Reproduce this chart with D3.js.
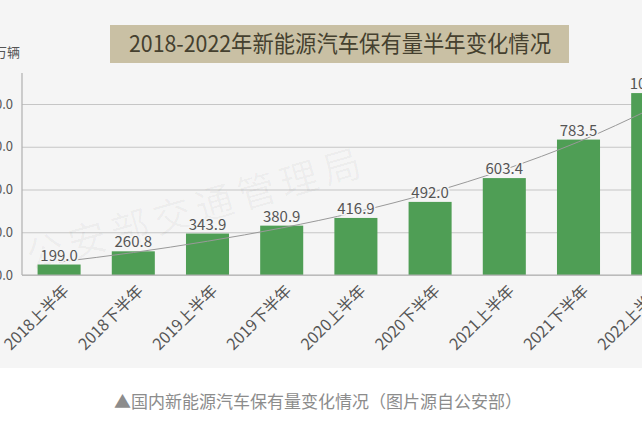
<!DOCTYPE html>
<html>
<head>
<meta charset="utf-8">
<script src="https://cdn.jsdelivr.net/npm/d3@7"></script>
<style>
  html, body { margin: 0; padding: 0; background: #ffffff; }
  svg { display: block; font-family: "Noto Sans CJK SC", "Noto Sans", sans-serif; }
</style>
</head>
<body>
<svg width="642" height="428"></svg>
<script>
const svg = d3.select('svg');
const width = +svg.attr('width');
const height = +svg.attr('height');

// data
const categories = ['2018上半年', '2018下半年', '2019上半年', '2019下半年', '2020上半年',
                    '2020下半年', '2021上半年', '2021下半年', '2022上半年'];
const values = [199.0, 260.8, 343.9, 380.9, 416.9, 492.0, 603.4, 783.5, 1001.1];
// trend line (exponential, as drawn in the picture)
const trendValues = [211, 255, 308, 370, 444, 534, 643, 773, 931];
const yTicks = [150, 350, 550, 750, 950];

const titleText = '2018-2022年新能源汽车保有量半年变化情况';
const unitText = '万辆';
const watermarkText = '公安部交通管理局';
const captionText = '▲国内新能源汽车保有量变化情况（图片源自公安部）';

const bgColor = '#f5f5f5';
const barColor = '#4f9e55';
const textColor = '#555555';

const margin = { left: 22, top: 73, bottom: 275 };

// background of the chart picture
svg.append('rect')
    .attr('x', 0).attr('y', 0)
    .attr('width', width).attr('height', 368)
    .attr('fill', bgColor);

// SCALES
const xScale = d3.scaleBand()
    .domain(categories)
    .range([margin.left, margin.left + categories.length * 74.2])
    .paddingInner(0.42)
    .paddingOuter(0.21);

const yScale = d3.scaleLinear()
    .domain([150, 950])
    .range([margin.bottom, 104]);

// title box
const titleG = svg.append('g');
titleG.append('rect')
    .attr('x', 110).attr('y', 25)
    .attr('width', 459).attr('height', 38)
    .attr('fill', '#c9c0a4');
titleG.append('text')
    .attr('x', 340).attr('y', 52)
    .attr('text-anchor', 'middle')
    .attr('font-size', 23)
    .attr('fill', '#45402f')
    .attr('textLength', 422)
    .attr('lengthAdjust', 'spacingAndGlyphs')
    .text(titleText);

// unit label
svg.append('text')
    .attr('x', 20).attr('y', 57)
    .attr('text-anchor', 'end')
    .attr('font-size', 13)
    .attr('fill', textColor)
    .text(unitText);

// Y-axis with grid
const yAxis = d3.axisLeft(yScale)
    .tickValues(yTicks)
    .tickSize(-(width - margin.left + 40))
    .tickPadding(9)
    .tickFormat(d3.format('.1f'));
const yAxisG = svg.append('g')
    .attr('transform', `translate(${margin.left},0)`)
    .call(yAxis);
yAxisG.select('.domain').remove();
yAxisG.selectAll('.tick line')
    .attr('stroke', '#c6c6c6')
    .attr('stroke-width', 1.2);
yAxisG.selectAll('.tick text')
    .attr('font-size', 13)
    .attr('fill', textColor)
    .attr('font-family', '"Noto Sans CJK SC", sans-serif');

// left axis line
svg.append('line')
    .attr('x1', margin.left).attr('x2', margin.left)
    .attr('y1', margin.top).attr('y2', margin.bottom)
    .attr('stroke', '#b0b0b0')
    .attr('stroke-width', 1.2);

// watermark
svg.append('text')
    .attr('transform', 'translate(200,222) rotate(-16)')
    .attr('text-anchor', 'middle')
    .attr('font-size', 38)
    .attr('letter-spacing', 6)
    .attr('fill', '#000')
    .attr('fill-opacity', 0.035)
    .text(watermarkText);

// BARS
svg.append('g')
    .selectAll('rect')
    .data(values)
    .enter().append('rect')
    .attr('x', (d, i) => xScale(categories[i]))
    .attr('y', d => yScale(d))
    .attr('width', xScale.bandwidth())
    .attr('height', d => yScale(150) - yScale(d))
    .attr('fill', barColor);

// X-axis
const xAxis = d3.axisBottom(xScale)
    .tickSize(0)
    .tickPadding(0);
const xAxisG = svg.append('g')
    .attr('transform', `translate(0,${margin.bottom})`)
    .call(xAxis);
xAxisG.select('.domain')
    .attr('stroke', '#b0b0b0')
    .attr('stroke-width', 1.2)
    .attr('d', `M${margin.left},0H${width + 10}`);
xAxisG.selectAll('.tick text')
    .attr('font-size', 16)
    .attr('fill', textColor)
    .attr('font-family', '"Noto Sans CJK SC", sans-serif')
    .attr('text-anchor', 'end')
    .attr('dy', '0.35em')
    .attr('transform', 'translate(7,13) rotate(-45)');

// trend line
const line = d3.line()
    .x((d, i) => xScale(categories[i]) + xScale.bandwidth() / 2)
    .y(d => yScale(d))
    .curve(d3.curveMonotoneX);
svg.append('path')
    .datum(trendValues)
    .attr('d', line)
    .attr('fill', 'none')
    .attr('stroke', '#999999')
    .attr('stroke-width', 1);

// value labels
svg.append('g')
    .selectAll('text')
    .data(values)
    .enter().append('text')
    .attr('x', (d, i) => xScale(categories[i]) + xScale.bandwidth() / 2)
    .attr('y', d => yScale(d) - 4)
    .attr('text-anchor', 'middle')
    .attr('font-size', 15)
    .attr('fill', textColor)
    .attr('stroke', bgColor)
    .attr('stroke-width', 3)
    .attr('paint-order', 'stroke')
    .text(d => d.toFixed(1));

// caption
svg.append('text')
    .attr('x', 318).attr('y', 408)
    .attr('text-anchor', 'middle')
    .attr('font-size', 17)
    .attr('fill', '#8c8c8c')
    .text(captionText);
</script>
</body>
</html>
